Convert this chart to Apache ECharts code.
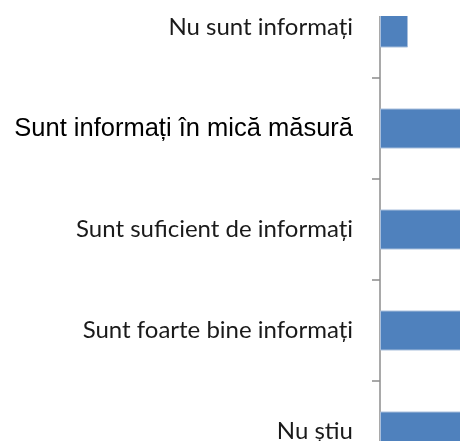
<!DOCTYPE html>
<html>
<head>
<meta charset="utf-8">
<script src="https://cdn.jsdelivr.net/npm/echarts@6/dist/echarts.min.js"></script>
<style>
  html, body { margin: 0; padding: 0; background: #fff; }
  #chart { width: 460px; height: 441px; }
</style>
</head>
<body>
<div id="chart"></div>
<script>
// categorii si procente (graficul e decupat in dreapta)
var categories = ['Nu sunt informați', 'Sunt informați în mică măsură', 'Sunt suficient de informați', 'Sunt foarte bine informați', 'Nu știu'];
var values = [4, 30, 28, 22, 16];

var myChart = echarts.init(document.getElementById('chart'));

var option = {
  animation: false,
  grid: { left: 380, top: -23, width: 700, height: 505, outerBoundsMode: 'none', containLabel: false },
  xAxis: {
    type: 'value',
    min: 0,
    max: 100,
    show: false
  },
  yAxis: {
    type: 'category',
    inverse: true,
    data: categories,
    axisLine: { show: true, lineStyle: { color: '#8c8c8c', width: 1.5 } },
    axisTick: { show: true, length: 8, lineStyle: { color: '#8c8c8c', width: 1.5 } },
    axisLabel: {
      margin: 27,
      formatter: function (v) {
        return v === 'Sunt informați în mică măsură' ? '{b|' + v + '}' : '{a|' + v + '}';
      },
      rich: {
        a: { fontFamily: 'Lato', fontSize: 24, color: '#1a1a1a' },
        b: { fontFamily: 'Liberation Sans', fontSize: 25.5, color: '#000' }
      }
    }
  },
  series: [{
    type: 'bar',
    data: values,
    barWidth: 40,
    itemStyle: { color: '#4f81bd', borderColor: '#a9bfdc', borderWidth: 1 }
  }],
  graphic: [{
    type: 'rect',
    shape: { x: 365, y: 0, width: 95, height: 16 },
    style: { fill: '#fff' },
    z: 100
  }]
};

myChart.setOption(option);
</script>
</body>
</html>
